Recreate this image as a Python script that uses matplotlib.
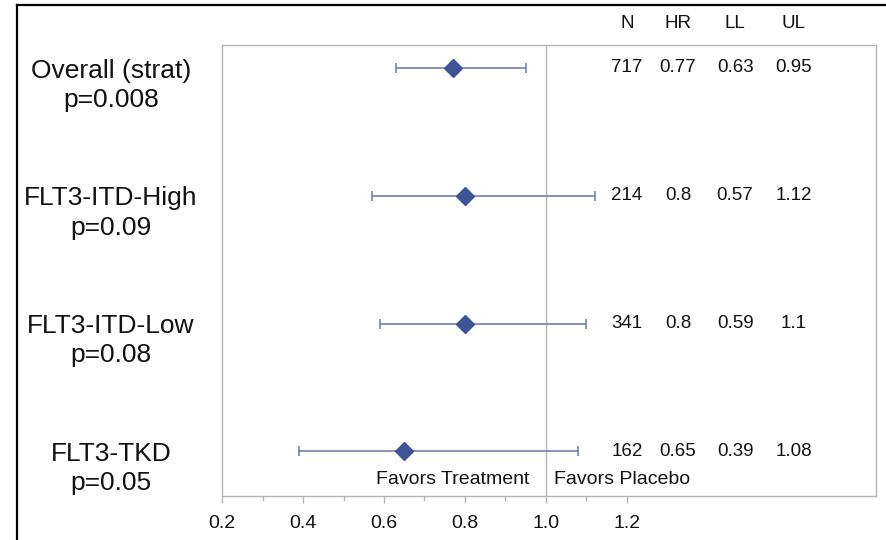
#!/usr/bin/env python3
"""
Forest plot of hazard ratios by FLT3 subgroup.
"""

import matplotlib
matplotlib.use("Agg")
import matplotlib.pyplot as plt
from matplotlib.lines import Line2D
from matplotlib.ticker import MultipleLocator
import matplotlib.transforms as mtransforms

plt.rcParams["font.family"] = ["Liberation Sans", "DejaVu Sans"]

# Data
groups = ["Overall (strat)", "FLT3-ITD-High", "FLT3-ITD-Low", "FLT3-TKD"]
pvals = ["p=0.008", "p=0.09", "p=0.08", "p=0.05"]
n_pts = [717, 214, 341, 162]
hr = [0.77, 0.80, 0.80, 0.65]
ll = [0.63, 0.57, 0.59, 0.39]
ul = [0.95, 1.12, 1.10, 1.08]
col_headers = ["N", "HR", "LL", "UL"]
hr_text = ["0.77", "0.8", "0.8", "0.65"]
ll_text = ["0.63", "0.57", "0.59", "0.39"]
ul_text = ["0.95", "1.12", "1.1", "1.08"]
xticks = [0.2, 0.4, 0.6, 0.8, 1.0, 1.2]

# Layout
COL_X = [1.20, 1.326, 1.467, 1.612]   # table column centres (data units)
MARKER_C = "#3f5497"
BAR_C = "#6677ad"
GRID_C = "#b4b4b4"
TXT_C = "#111111"


def main():
    fig = plt.figure(figsize=(8.86, 5.40), dpi=100)
    ax = fig.add_axes([0.2506, 0.0815, 0.7381, 0.8352])

    ypos = list(range(len(groups)))
    for i in ypos:
        ax.errorbar(hr[i], i, xerr=[[hr[i] - ll[i]], [ul[i] - hr[i]]],
                    fmt="none", ecolor=BAR_C, elinewidth=1.1,
                    capsize=3.5, capthick=1.1, zorder=2)
        ax.plot(hr[i], i, marker="D", ms=9, color=MARKER_C,
                mec=MARKER_C, zorder=3)

    ax.axvline(1.0, color=GRID_C, lw=1.0, zorder=1)

    ax.set_xlim(0.2, 1.815)
    ax.set_ylim(3.35, -0.18)
    ax.set_yticks([])

    ax.xaxis.set_major_locator(plt.FixedLocator(xticks))
    ax.set_xticklabels([f"{t:.1f}" for t in xticks])
    ax.xaxis.set_minor_locator(plt.FixedLocator([0.3, 0.5, 0.7, 0.9, 1.1]))
    ax.tick_params(axis="x", which="major", length=5, width=1,
                   color=GRID_C, labelsize=14, labelcolor=TXT_C, pad=9)
    ax.tick_params(axis="x", which="minor", length=3.5, width=1,
                   color=GRID_C)
    for sp in ax.spines.values():
        sp.set_color(GRID_C)
        sp.set_linewidth(1.0)

    # table inside the plot
    for i in ypos:
        row = [str(n_pts[i]), hr_text[i], ll_text[i], ul_text[i]]
        for x, s in zip(COL_X, row):
            ax.text(x, i, s, ha="center", va="center",
                    fontsize=13.5, color=TXT_C)

    # headers above the plot box
    hdr_tr = mtransforms.blended_transform_factory(ax.transData, fig.transFigure)
    for x, s in zip(COL_X, col_headers):
        ax.text(x, 1 - 24 / 540, s, transform=hdr_tr, ha="center",
                va="center", fontsize=13.5, color=TXT_C, clip_on=False)

    # group labels on the left
    lab_tr = mtransforms.blended_transform_factory(ax.transAxes, ax.transData)
    for i in ypos:
        ax.text(-0.17, i + 0.02, groups[i], transform=lab_tr, ha="center",
                va="center", fontsize=19, color=TXT_C, clip_on=False)
        ax.text(-0.17, i + 0.25, pvals[i], transform=lab_tr, ha="center",
                va="center", fontsize=19, color=TXT_C, clip_on=False)

    ax.text(0.96, 3.22, "Favors Treatment", ha="right", va="center",
            fontsize=14, color=TXT_C)
    ax.text(1.02, 3.22, "Favors Placebo", ha="left", va="center",
            fontsize=14, color=TXT_C)

    # outer frame (top and left edges visible)
    x0, y0 = 17 / 886, 1 - 5 / 540
    fig.add_artist(Line2D([x0, 1.0], [y0, y0], transform=fig.transFigure,
                          color="black", lw=1.6))
    fig.add_artist(Line2D([x0, x0], [0.0, y0], transform=fig.transFigure,
                          color="black", lw=1.6))

    fig.savefig("out.png", dpi=100)
    plt.close(fig)


if __name__ == "__main__":
    main()
